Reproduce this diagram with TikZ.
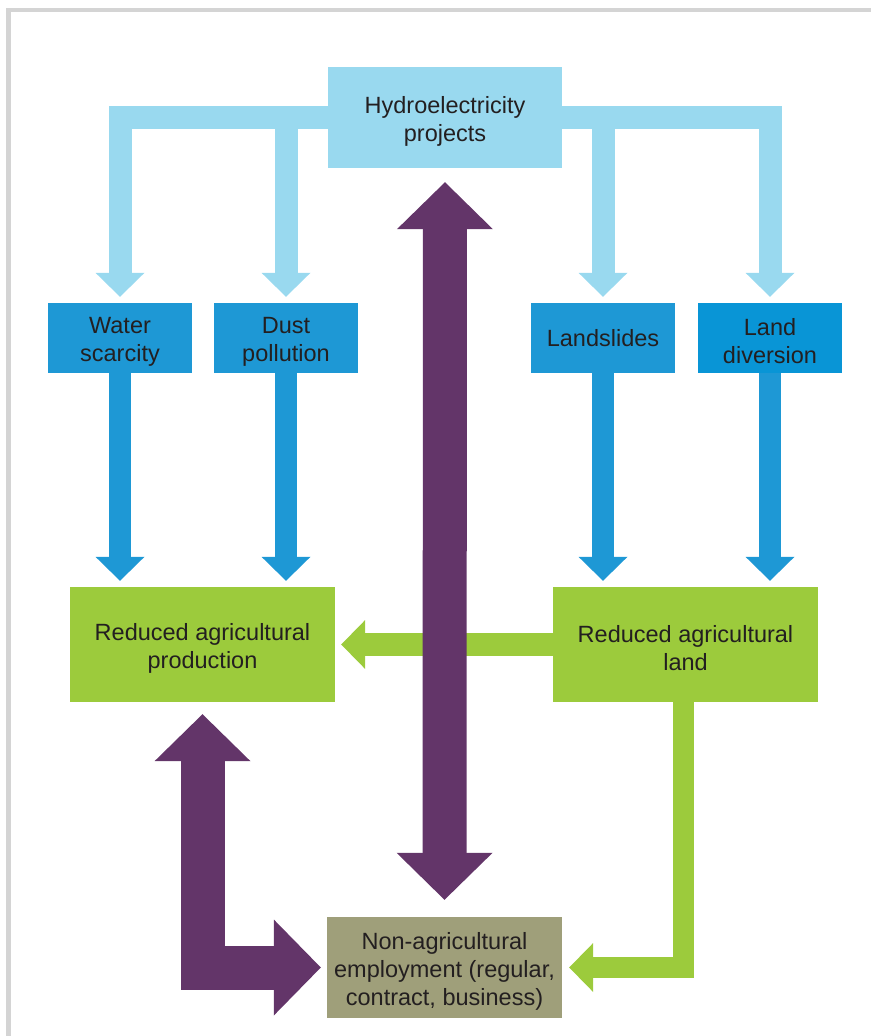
\documentclass[tikz,border=0pt]{standalone}
\usepackage{fontspec}
\setmainfont{Liberation Sans}
\usetikzlibrary{arrows.meta}

\definecolor{hydroblue}{HTML}{99D9EF}
\definecolor{causeblue}{HTML}{1E98D5}
\definecolor{divblue}{HTML}{0995D6}
\definecolor{agrigreen}{HTML}{9CCB3C}
\definecolor{impactpurple}{HTML}{633569}
\definecolor{employolive}{HTML}{9F9F7A}
\definecolor{framegray}{HTML}{D4D4D4}
\definecolor{inkgray}{HTML}{231F20}

% first line strut, so that two and three line labels sit a bit lower
\newcommand{\firstline}{\rule{0pt}{24pt}}

\tikzset{
  box/.style={inner sep=0pt, align=center, text=inkgray,
    font=\fontsize{23.5}{28}\selectfont},
  thin head/.style={-{Triangle[length=24pt, width=49pt, line width=0pt]}},
  wide head/.style={{Triangle[length=47pt, width=96pt, line width=0pt]}-{Triangle[length=47pt, width=96pt, line width=0pt]}}
}

\begin{document}
\begin{tikzpicture}[x=1pt, y=-1pt]
    \useasboundingbox (0,0) rectangle (871,1036);
    \draw[framegray, line width=4.5pt] (8.5,1036) |- (871,10);

    % boxes
    \node[box, fill=hydroblue, minimum width=234pt, minimum height=101pt] (hydro) at (445,117.5) {\firstline Hydroelectricity\\projects};

    \node[box, fill=causeblue, minimum width=144pt, minimum height=70pt] (water) at (120,338) {\firstline Water\\scarcity};
    \node[box, fill=causeblue, minimum width=144pt, minimum height=70pt] (dust) at (286,338) {\firstline Dust\\pollution};
    \node[box, fill=causeblue, minimum width=144pt, minimum height=70pt] (slides) at (603,338) {Landslides};
    \node[box, fill=divblue, minimum width=144pt, minimum height=70pt] (diversion) at (770,338) {\firstline Land\\diversion};

    \node[box, fill=agrigreen, minimum width=265pt, minimum height=115pt] (production) at (202.5,644.5) {\firstline Reduced agricultural\\production};
    \node[box, fill=agrigreen, minimum width=265pt, minimum height=115pt] (land) at (685.5,644.5) {\firstline Reduced agricultural\\land};

    \node[box, fill=employolive, minimum width=235pt, minimum height=101pt] (nonagri) at (444.5,967.5) {\firstline Non-agricultural\\employment (regular,\\contract, business)};

    % light blue arrows from the projects
    \draw[hydroblue, line width=23pt, thin head, shorten >=6pt] (hydro.west) -| (water.north);
    \draw[hydroblue, line width=23pt, thin head, shorten >=6pt] (hydro.west) -| (dust.north);
    \draw[hydroblue, line width=23pt, thin head, shorten >=6pt] (hydro.east) -| (slides.north);
    \draw[hydroblue, line width=23pt, thin head, shorten >=6pt] (hydro.east) -| (diversion.north);

    % blue arrows down
    \draw[causeblue, line width=22pt, thin head, shorten >=6pt] (water.south) -- (water.south |- production.north);
    \draw[causeblue, line width=22pt, thin head, shorten >=6pt] (dust.south) -- (dust.south |- production.north);
    \draw[causeblue, line width=22pt, thin head, shorten >=6pt] (slides.south) -- (slides.south |- land.north);
    \draw[causeblue, line width=22pt, thin head, shorten >=6pt] (diversion.south) -- (diversion.south |- land.north);

    % green arrows
    \draw[agrigreen, line width=23pt, thin head, shorten >=6pt] (land.west) -- (production.east);
    \draw[agrigreen, line width=21pt, thin head, shorten >=7pt] ([xshift=-2pt]land.south) |- (nonagri.east);

    % purple double arrows
    \draw[impactpurple, line width=44pt, wide head, shorten <=14pt, shorten >=17pt] (hydro.south) -- (nonagri.north);
    \draw[impactpurple, line width=44pt, wide head, shorten <=12pt, shorten >=6pt] (production.south) |- (nonagri.west);

\end{tikzpicture}
\end{document}
